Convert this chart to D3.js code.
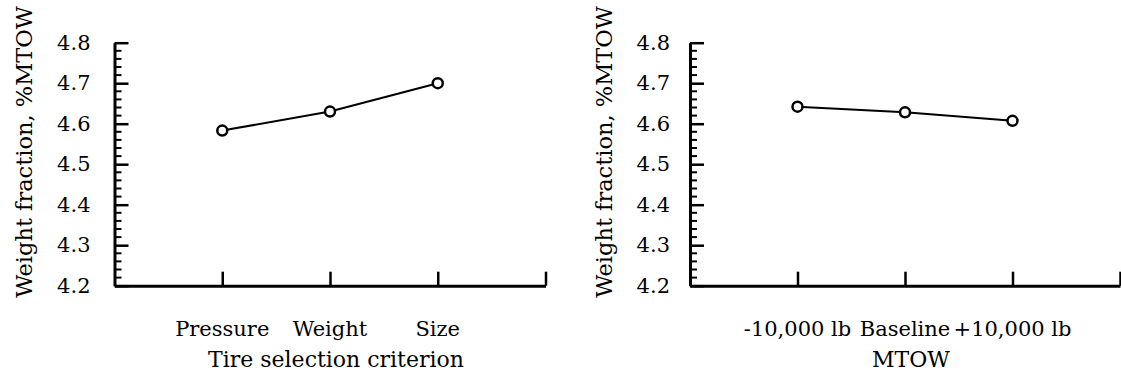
<!DOCTYPE html>
<html>
<head>
<meta charset="utf-8">
<script src="https://cdn.jsdelivr.net/npm/d3@7"></script>
<style>
  body { margin: 0; background: #fff; }
</style>
</head>
<body>
<svg id="chart" width="1121" height="376"></svg>
<script>
// Data
const tireCategories = ["Pressure", "Weight", "Size"];
const tireValues = [4.583, 4.630, 4.700];
const mtowCategories = ["-10,000 lb", "Baseline", "+10,000 lb"];
const mtowValues = [4.642, 4.628, 4.607];
const yMajorTicks = [4.2, 4.3, 4.4, 4.5, 4.6, 4.7, 4.8];
const yTitle = "Weight fraction, %MTOW";

const serif = "'DejaVu Serif', serif";
const svg = d3.select("#chart");

// Shared y scale (both panels use the same vertical extent)
const plotTop = 42.7, plotBottom = 285.7;
const yScale = d3.scaleLinear().domain([4.2, 4.8]).range([plotBottom, plotTop]);
// 0.02 steps between the labelled ticks
const yMinorTicks = yScale.ticks(30).filter((v) => Math.abs(v * 10 - Math.round(v * 10)) > 1e-6);

function drawPanel(cfg) {
    const g = svg.append("g");
    const xScale = d3.scaleLinear().domain([0, 4]).range([cfg.left, cfg.right]);

    // Minor y ticks, pointing into the plot
    g.append("g")
        .selectAll("line")
        .data(yMinorTicks)
        .enter()
        .append("line")
        .attr("x1", cfg.left)
        .attr("x2", cfg.left + 7)
        .attr("y1", (d) => yScale(d))
        .attr("y2", (d) => yScale(d))
        .attr("stroke", "#000")
        .attr("stroke-width", 2);

    // Major y ticks and labels
    const yAxis = g.append("g")
        .attr("transform", "translate(" + cfg.left + ",0)")
        .call(d3.axisLeft(yScale).tickValues(yMajorTicks).tickSizeInner(-14).tickSizeOuter(0)
            .tickPadding(cfg.yPad).tickFormat(d3.format(".1f")));
    yAxis.attr("font-family", serif).attr("font-size", 21);
    yAxis.select(".domain").attr("stroke-width", 3);
    yAxis.selectAll(".tick line").attr("stroke-width", 2.5);
    yAxis.selectAll("text").attr("font-family", serif).attr("font-size", 21);

    // X axis with upward ticks
    const xAxis = g.append("g")
        .attr("transform", "translate(0," + plotBottom + ")")
        .call(d3.axisBottom(xScale).tickValues([1, 2, 3, 4]).tickSizeInner(-14).tickSizeOuter(0).tickFormat(() => ""));
    xAxis.select(".domain").attr("stroke-width", 3);
    xAxis.selectAll(".tick line").attr("stroke-width", 2.5);

    // Category labels
    g.selectAll("text.cat")
        .data(cfg.categories)
        .enter()
        .append("text")
        .attr("class", "cat")
        .attr("x", (d, i) => xScale(i + 1))
        .attr("y", 336)
        .attr("text-anchor", "middle")
        .attr("font-family", serif)
        .attr("font-size", 21)
        .text((d) => d);

    // X title
    g.append("text")
        .attr("x", (cfg.left + cfg.right) / 2 + 6)
        .attr("y", 367)
        .attr("text-anchor", "middle")
        .attr("font-family", serif)
        .attr("font-size", 22)
        .text(cfg.xTitle);

    // Y title
    g.append("text")
        .attr("transform", "translate(" + cfg.yTitleX + ",152) rotate(-90)")
        .attr("text-anchor", "middle")
        .attr("font-family", serif)
        .attr("font-size", 22.5)
        .text(yTitle);

    // Line and markers
    const pts = cfg.values.map((v, i) => [xScale(i + 1), yScale(v)]);
    g.append("path")
        .attr("d", d3.line()(pts))
        .attr("fill", "none")
        .attr("stroke", "#000")
        .attr("stroke-width", 2);

    g.selectAll("circle")
        .data(pts)
        .enter()
        .append("circle")
        .attr("cx", (d) => d[0])
        .attr("cy", (d) => d[1])
        .attr("r", 5)
        .attr("fill", "#fff")
        .attr("stroke", "#000")
        .attr("stroke-width", 2.5);
}

drawPanel({
    left: 114.5, right: 545.5, yPad: 24, yTitleX: 32,
    categories: tireCategories, values: tireValues, xTitle: "Tire selection criterion"
});

drawPanel({
    left: 690, right: 1120, yPad: 20, yTitleX: 612,
    categories: mtowCategories, values: mtowValues, xTitle: "MTOW"
});
</script>
</body>
</html>
